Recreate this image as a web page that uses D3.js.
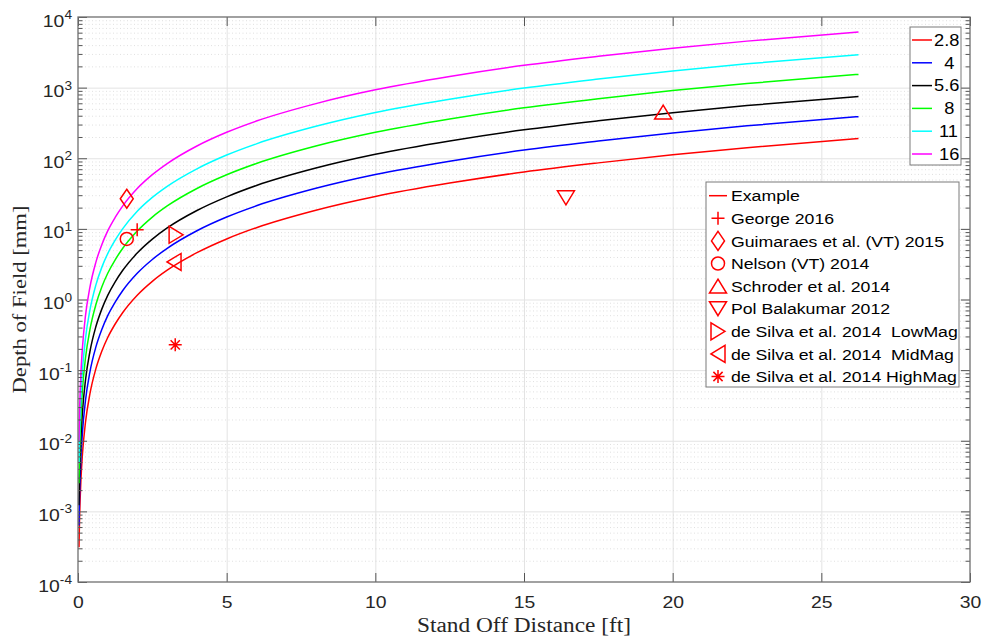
<!DOCTYPE html>
<html>
<head>
<meta charset="utf-8">
<script src="https://cdn.jsdelivr.net/npm/d3@7"></script>
<style>
  body { margin: 0; background: #ffffff; }
  svg { display: block; }
  text { font-family: "Liberation Sans", Arial, Helvetica, sans-serif; }
</style>
</head>
<body>
<svg id="chart" width="986" height="640"></svg>
<script>
// ---- Depth of field vs. stand-off distance, one curve per f-number ----
const distanceFt = [0.033, 0.05, 0.075, 0.1, 0.15, 0.25, 0.4, 0.6, 0.8, 1, 1.25, 1.5, 2, 2.5, 3, 4, 5, 6, 8, 10, 12.5, 15, 17.5, 20, 22.5, 26.25];

// legend labels as printed (right-aligned with padding spaces)
const fNumberLabels = ["2.8", "  4", "5.6", "  8", " 11", " 16"];
const curveColors = ["#ff0000", "#0000ff", "#000000", "#00ff00", "#00ffff", "#ff00ff"];

const dofF28 = [3.1e-4, 7.2e-4, 1.6e-3, 2.9e-3, 6.5e-3, 0.018, 0.046, 0.104, 0.185, 0.29, 0.45, 0.65, 1.16, 1.81, 2.6, 4.6, 7.2, 10.4, 18.4, 28.8, 44.5, 64, 86, 112, 141, 190];
const dofF4  = [6.3e-4, 1.47e-3, 3.26e-3, 5.9e-3, 0.0133, 0.0367, 0.094, 0.212, 0.377, 0.592, 0.918, 1.33, 2.37, 3.69, 5.3, 9.4, 14.7, 21.2, 37.5, 58.8, 90.8, 130.6, 175, 228, 288, 388];
const dofF56 = [1.22e-3, 2.84e-3, 6.3e-3, 0.0115, 0.0257, 0.0711, 0.182, 0.411, 0.731, 1.146, 1.78, 2.57, 4.58, 7.15, 10.3, 18.2, 28.4, 41.1, 72.7, 113.8, 175.8, 252.8, 339.7, 442.4, 557, 750];
const dofF8  = [2.5e-3, 5.8e-3, 0.013, 0.0235, 0.0527, 0.146, 0.373, 0.842, 1.5, 2.35, 3.65, 5.27, 9.4, 14.7, 21.1, 37.3, 58.3, 84.2, 149, 233, 360, 518, 697, 907, 1142, 1540];
const dofF11 = [4.8e-3, 0.0111, 0.0246, 0.0447, 0.1, 0.277, 0.708, 1.6, 2.85, 4.47, 6.93, 10, 17.9, 27.9, 40, 70.8, 111, 160, 283, 444, 685, 986, 1324, 1725, 2171, 2925];
const dofF16 = [0.01, 0.0233, 0.0517, 0.0937, 0.21, 0.581, 1.49, 3.36, 5.98, 9.37, 14.5, 21, 37.5, 58.5, 84, 149, 233, 336, 594, 930, 1437, 2067, 2778, 3618, 4554, 6137];
const dofSeries = [dofF28, dofF4, dofF56, dofF8, dofF11, dofF16];

// ---- Published setups ----
const refNames = ["George 2016", "Guimaraes et al. (VT) 2015", "Nelson (VT) 2014", "Schroder et al. 2014",
                  "Pol Balakumar 2012", "de Silva et al. 2014  LowMag", "de Silva et al. 2014  MidMag", "de Silva et al. 2014 HighMag"];
const refDistanceFt = [1.99, 1.64, 1.64, 19.68, 16.41, 3.30, 3.23, 3.27];
const refDofMm = [9.7, 26.7, 7.2, 450, 27.5, 8.25, 3.4, 0.228];
const refMarkers = ["plus", "diamond", "circle", "triUp", "triDown", "triRight", "triLeft", "star"];

const xTickValues = [0, 5, 10, 15, 20, 25, 30];
const yDecades = [-4, -3, -2, -1, 0, 1, 2, 3, 4];

// ---- layout ----
const plot = { left: 78, right: 970, top: 17, bottom: 582 };
const SX = 1.14;          // horizontal glyph stretch of the figure text
const axisGray = "#262626";
const svg = d3.select("#chart");

const x = d3.scaleLinear().domain([0, 30]).range([plot.left, plot.right]);
const y = d3.scaleLog().domain([1e-4, 1e4]).range([plot.bottom, plot.top]);

const majorY = yDecades.map(e => Math.pow(10, e));
const minorY = [];
yDecades.slice(0, -1).forEach(e => { for (let k = 2; k <= 9; k++) minorY.push(k * Math.pow(10, e)); });

// ---- grid ----
const grid = svg.append("g");
grid.append("g")
  .attr("transform", `translate(0,${plot.bottom})`)
  .call(d3.axisBottom(x).tickValues(xTickValues.slice(1, -1)).tickSize(-(plot.bottom - plot.top)).tickFormat(""))
  .call(g => g.select(".domain").remove())
  .call(g => g.selectAll("line").attr("stroke", "#e3e3e3").attr("stroke-width", 1));
grid.append("g")
  .attr("transform", `translate(${plot.left},0)`)
  .call(d3.axisLeft(y).tickValues(minorY).tickSize(-(plot.right - plot.left)).tickFormat(""))
  .call(g => g.select(".domain").remove())
  .call(g => g.selectAll("line").attr("stroke", "#d2d2d2").attr("stroke-width", 0.7).attr("stroke-dasharray", "1,2.5"));
grid.append("g")
  .attr("transform", `translate(${plot.left},0)`)
  .call(d3.axisLeft(y).tickValues(majorY.slice(1, -1)).tickSize(-(plot.right - plot.left)).tickFormat(""))
  .call(g => g.select(".domain").remove())
  .call(g => g.selectAll("line").attr("stroke", "#e3e3e3").attr("stroke-width", 1));

// ---- curves ----
const line = d3.line()
  .x(d => x(d[0]))
  .y(d => y(d[1]))
  .curve(d3.curveMonotoneX);

dofSeries.forEach((vals, i) => {
  svg.append("path")
    .datum(distanceFt.map((d, j) => [d, vals[j]]))
    .attr("fill", "none")
    .attr("stroke", curveColors[i])
    .attr("stroke-width", 1.5)
    .attr("d", line);
});

// ---- marker shapes ----
function markerPath(type) {
  const p = d3.path();
  switch (type) {
    case "plus":
      p.moveTo(-6.5, 0); p.lineTo(6.5, 0); p.moveTo(0, -6.5); p.lineTo(0, 6.5); break;
    case "diamond":
      p.moveTo(0, -9.5); p.lineTo(6.5, 0); p.lineTo(0, 9.5); p.lineTo(-6.5, 0); p.closePath(); break;
    case "circle":
      p.moveTo(6.5, 0); p.arc(0, 0, 6.5, 0, 2 * Math.PI); p.closePath(); break;
    case "triUp":
      p.moveTo(0, -7); p.lineTo(8.5, 7); p.lineTo(-8.5, 7); p.closePath(); break;
    case "triDown":
      p.moveTo(0, 7); p.lineTo(8.5, -7); p.lineTo(-8.5, -7); p.closePath(); break;
    case "triRight":
      p.moveTo(7, 0); p.lineTo(-7, -8.5); p.lineTo(-7, 8.5); p.closePath(); break;
    case "triLeft":
      p.moveTo(-7, 0); p.lineTo(7, -8.5); p.lineTo(7, 8.5); p.closePath(); break;
    case "star": {
      const r = 6.5, q = r * Math.SQRT1_2;
      p.moveTo(-r, 0); p.lineTo(r, 0); p.moveTo(0, -r); p.lineTo(0, r);
      p.moveTo(-q, -q); p.lineTo(q, q); p.moveTo(-q, q); p.lineTo(q, -q); break;
    }
  }
  return p.toString();
}

refNames.forEach((name, i) => {
  svg.append("path")
    .attr("transform", `translate(${x(refDistanceFt[i])},${y(refDofMm[i])})`)
    .attr("d", markerPath(refMarkers[i]))
    .attr("fill", "none")
    .attr("stroke", "#ff0000")
    .attr("stroke-width", 1.5);
});

// ---- axes: frame and inward ticks ----
const tickStyle = g => {
  g.select(".domain").remove();
  g.selectAll("line").attr("stroke", "#555555").attr("stroke-width", 1);
};
const xb = svg.append("g").attr("transform", `translate(0,${plot.bottom})`)
  .call(d3.axisBottom(x).tickValues(xTickValues).tickSize(-9).tickFormat(d3.format("d")))
  .call(tickStyle);
xb.selectAll("text")
  .attr("y", 26.3).attr("dy", 0)
  .attr("transform", `scale(${SX},1)`)
  .attr("fill", axisGray)
  .style("font-size", "17px")
  .style("font-family", "'Liberation Sans', Arial, sans-serif");

svg.append("g").attr("transform", `translate(0,${plot.top})`)
  .call(d3.axisTop(x).tickValues(xTickValues).tickSize(-9).tickFormat(""))
  .call(tickStyle);

[["L", plot.left], ["R", plot.right]].forEach(([side, px]) => {
  const mk = side === "L" ? d3.axisLeft : d3.axisRight;
  svg.append("g").attr("transform", `translate(${px},0)`)
    .call(mk(y).tickValues(majorY).tickSize(-9).tickFormat("")).call(tickStyle);
  svg.append("g").attr("transform", `translate(${px},0)`)
    .call(mk(y).tickValues(minorY).tickSize(-4.5).tickFormat("")).call(tickStyle);
});

svg.append("rect")
  .attr("x", plot.left).attr("y", plot.top)
  .attr("width", plot.right - plot.left).attr("height", plot.bottom - plot.top)
  .attr("fill", "none").attr("stroke", "#6f6f6f").attr("stroke-width", 1.3);

// y tick labels as powers of ten
yDecades.forEach(e => {
  const t = svg.append("text")
    .attr("transform", `translate(72,${y(Math.pow(10, e)) + 9.5}) scale(${SX},1)`)
    .attr("text-anchor", "end")
    .attr("fill", axisGray)
    .style("font-size", "17px");
  t.append("tspan").text("10");
  t.append("tspan").attr("dy", -7.5).style("font-size", "12px").text(String(e));
});

// axis titles
svg.append("text")
  .attr("x", (plot.left + plot.right) / 2).attr("y", 632)
  .attr("text-anchor", "middle")
  .attr("textLength", 214).attr("lengthAdjust", "spacingAndGlyphs")
  .attr("fill", axisGray)
  .style("font-family", "'Liberation Serif', 'Times New Roman', serif")
  .style("font-size", "20px")
  .text("Stand Off Distance [ft]");
svg.append("text")
  .attr("transform", `translate(26,${(plot.top + plot.bottom) / 2}) rotate(-90)`)
  .attr("text-anchor", "middle")
  .attr("textLength", 188).attr("lengthAdjust", "spacingAndGlyphs")
  .attr("fill", axisGray)
  .style("font-family", "'Liberation Serif', 'Times New Roman', serif")
  .style("font-size", "19px")
  .text("Depth of Field [mm]");

// ---- legend: f-numbers ----
const lg1 = svg.append("g");
lg1.append("rect").attr("x", 910).attr("y", 27).attr("width", 51).attr("height", 138)
  .attr("fill", "#ffffff").attr("stroke", "#7a7a7a").attr("stroke-width", 1);
fNumberLabels.forEach((lab, i) => {
  const ry = 40 + 22.8 * i;
  lg1.append("line").attr("x1", 912).attr("x2", 932).attr("y1", ry).attr("y2", ry)
    .attr("stroke", curveColors[i]).attr("stroke-width", 1.5);
  lg1.append("text")
    .attr("transform", `translate(934,${ry + 5.8}) scale(${SX},1)`)
    .attr("xml:space", "preserve")
    .style("white-space", "pre")
    .style("font-size", "16px")
    .attr("fill", "#000000")
    .text(lab);
});

// ---- legend: published setups ----
const lg2 = svg.append("g");
lg2.append("rect").attr("x", 706).attr("y", 182).attr("width", 253).attr("height", 205)
  .attr("fill", "#ffffff").attr("stroke", "#7a7a7a").attr("stroke-width", 1);
const lg2Labels = ["Example"].concat(refNames);
lg2Labels.forEach((lab, i) => {
  const ry = 195.7 + 22.6 * i;
  if (i === 0) {
    lg2.append("line").attr("x1", 709).attr("x2", 727).attr("y1", ry).attr("y2", ry)
      .attr("stroke", "#ff0000").attr("stroke-width", 1.5);
  } else {
    lg2.append("path")
      .attr("transform", `translate(718,${ry})`)
      .attr("d", markerPath(refMarkers[i - 1]))
      .attr("fill", "none").attr("stroke", "#ff0000").attr("stroke-width", 1.5);
  }
  lg2.append("text")
    .attr("transform", `translate(731,${ry + 5.6}) scale(${SX},1)`)
    .attr("xml:space", "preserve")
    .style("white-space", "pre")
    .style("font-size", "15.5px")
    .attr("fill", "#000000")
    .text(lab);
});
</script>
</body>
</html>
